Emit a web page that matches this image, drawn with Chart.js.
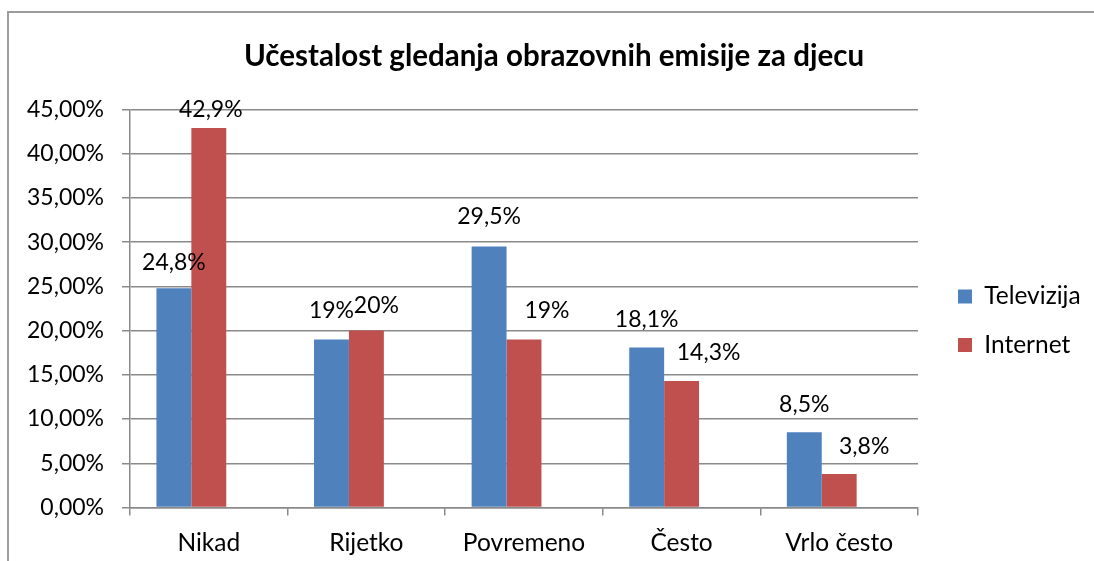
<!DOCTYPE html>
<html>
<head>
<meta charset="utf-8">
<script src="https://cdn.jsdelivr.net/npm/chart.js@4.4.1/dist/chart.umd.min.js"></script>
<style>
  html, body { margin: 0; padding: 0; background: #fff; overflow: hidden; }
  #wrap { position: relative; width: 1094px; height: 561px; }
  #frame { position: absolute; left: 7px; top: 11px; width: 1200px; height: 700px;
           border-left: 2px solid #9c9c9c; border-top: 2px solid #9c9c9c; pointer-events: none; }
</style>
</head>
<body>
<div id="wrap">
  <canvas id="chart" width="1094" height="561"></canvas>
  <div id="frame"></div>
</div>
<script>
// ─── DATA ────────────────────────────────────────────────────────────────
var categories = ['Nikad', 'Rijetko', 'Povremeno', 'Često', 'Vrlo često'];
var televizija = [24.8, 19, 29.5, 18.1, 8.5];
var internet   = [42.9, 20, 19, 14.3, 3.8];
var empty      = [null, null, null, null, null]; // third (blank) series reserves its slot
var seriesNames = ['Televizija', 'Internet'];

// label nudges (px) – the labels were dragged around by hand in the original
var tvLabelDx  = [0, 0, 0, 0, 0];
var tvLabelDy  = [26, 29, 30, 28, 28];
var netLabelDx = [2, 10, 23, 27, 25];
var netLabelDy = [18, 25, 29, 28, 27];

var FONT = 'Lato';
var GRID = '#8a8a8a';

function pct(v) { return String(v).replace('.', ',') + '%'; }

// ── value labels above bars ──────────────────────────────────────────────
var barLabels = {
  id: 'barLabels',
  afterDatasetsDraw: function(chart) {
    var ctx = chart.ctx;
    var offs = [[tvLabelDx, tvLabelDy], [netLabelDx, netLabelDy]];
    ctx.save();
    ctx.font = '23px ' + FONT;
    ctx.fillStyle = '#000';
    ctx.textAlign = 'center';
    ctx.textBaseline = 'middle';
    [0, 1].forEach(function(di) {
      var meta = chart.getDatasetMeta(di);
      meta.data.forEach(function(bar, i) {
        var v = chart.data.datasets[di].data[i];
        ctx.fillText(pct(v), bar.x + offs[di][0][i], bar.y - offs[di][1][i]);
      });
    });
    ctx.restore();
  }
};

new Chart(document.getElementById('chart'), {
  type: 'bar',
  data: {
    labels: categories,
    datasets: [
      { label: seriesNames[0], data: televizija, backgroundColor: '#4f81bd' },
      { label: seriesNames[1], data: internet, backgroundColor: '#c0504d' },
      { label: '', data: empty, backgroundColor: 'rgba(0,0,0,0)' }
    ]
  },
  plugins: [barLabels],
  options: {
    responsive: false,
    animation: false,
    layout: { padding: { left: 24, right: 10, top: 0, bottom: 0 } },
    datasets: { bar: { categoryPercentage: 105 / 158, barPercentage: 1 } },
    plugins: {
      title: {
        display: true,
        text: 'Učestalost gledanja obrazovnih emisije za djecu',
        color: '#000',
        font: { family: FONT, size: 29.5, weight: 'bold', lineHeight: 1.2 },
        padding: { top: 39, bottom: 35.1 }
      },
      legend: {
        position: 'right',
        align: 'center',
        maxWidth: 150,
        title: { display: true, text: '', padding: { top: 56.5, bottom: 0 }, font: { size: 20, lineHeight: 1.2 } },
        labels: {
          boxWidth: 14, boxHeight: 14, padding: 24, color: '#000',
          font: { family: FONT, size: 24.5 },
          filter: function(item) { return item.datasetIndex < 2; }
        }
      },
      tooltip: { enabled: false }
    },
    scales: {
      x: {
        afterFit: function(s) { s.height = 53.5; },
        grid: { drawOnChartArea: false, drawTicks: true, tickLength: 8, color: GRID, lineWidth: 1.5 },
        border: { color: GRID, width: 1.5 },
        ticks: { color: '#000', padding: 13, font: { family: FONT, size: 24.5 } }
      },
      y: {
        min: 0, max: 45,
        afterFit: function(s) { s.width = 106; },
        grid: { color: GRID, lineWidth: 1.5, tickLength: 8 },
        border: { color: GRID, width: 1.5 },
        ticks: {
          stepSize: 5, color: '#000', padding: 18, font: { family: FONT, size: 23 },
          callback: function(v) { return v.toFixed(2).replace('.', ',') + '%'; }
        }
      },
      // empty right-hand scale: just keeps a gap between plot and legend
      gap: {
        type: 'linear', position: 'right', display: true,
        afterFit: function(s) { s.width = 16; },
        grid: { display: false }, border: { display: false }, ticks: { display: false }
      }
    }
  }
});
</script>
</body>
</html>
